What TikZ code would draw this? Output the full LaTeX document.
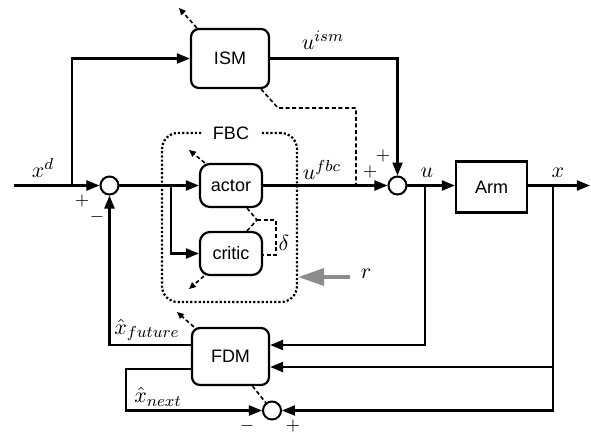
\documentclass[tikz,border=0pt]{standalone}
\usepackage{fontspec}
\setsansfont{Liberation Sans}
\usetikzlibrary{arrows.meta,calc}
\begin{document}
\begin{tikzpicture}[x=0.5pt,y=-0.5pt,
  blk/.style={draw,line width=1.1pt,rounded corners=4pt,font=\sffamily\fontsize{9}{10}\selectfont,inner sep=0pt,fill=white},
  sq/.style={draw,line width=1.1pt,font=\sffamily\fontsize{9}{10}\selectfont,inner sep=0pt},
  sumnode/.style={circle,draw,line width=1pt,minimum size=9pt,inner sep=0pt,fill=white},
  arr/.style={line width=1.1pt,-{Triangle[length=6.5pt,width=5pt]}},
  dsh/.style={line width=0.8pt,dash pattern=on 2pt off 1.3pt},
  darr/.style={line width=0.8pt,dash pattern=on 2pt off 1.3pt,-{Triangle[length=3.5pt,width=3pt]}},
  lbl/.style={font=\fontsize{11}{13}\selectfont,inner sep=0pt},
  sgn/.style={font=\fontsize{9}{10}\selectfont,inner sep=0pt},
  grayarr/.style={draw=black!45,line width=1.8pt,-{Triangle[length=13pt,width=8.5pt]}}
]
\useasboundingbox (0,0) rectangle (591,435);

% FBC container
\node[draw,densely dotted,line width=1.1pt,rounded corners=8pt,minimum width=67.5pt,minimum height=84.5pt,inner sep=0pt] (fbcbox) at (229.5,217.5) {};
\node[fill=white,font=\sffamily\fontsize{9}{10}\selectfont,inner xsep=5.5pt,inner ysep=1pt] (fbc) at (231,133) {FBC};

% blocks
\node[blk,minimum width=39pt,minimum height=29.5pt] (ISM) at (230,58.5) {ISM};
\node[blk,rounded corners=5pt,minimum width=31pt,minimum height=21.5pt] (actor) at (231,185.5) {actor};
\node[blk,rounded corners=5pt,minimum width=31pt,minimum height=21.5pt] (critic) at (231,253.5) {critic};
\node[sq,minimum width=35.5pt,minimum height=25.5pt] (arm) at (491.5,187) {Arm};
\node[blk,minimum width=38.5pt,minimum height=28.5pt] (fdm) at (230.5,356.5) {FDM};

% summing junctions
\node[sumnode] (c1) at (109.5,185.5) {};
\node[sumnode] (c2) at (397.5,185.5) {};
\node[sumnode] (c3) at (272,410.5) {};

% coordinates
\coordinate (in) at (14,185.5);
\coordinate (b1) at (72,185.5);
\coordinate (b2) at (171,185.5);
\coordinate (bu) at (425,185.5);
\coordinate (bx) at (553,185.5);
\coordinate (out) at (590,185.5);
\coordinate (j) at (356,185.5);
\coordinate (fork) at (257,220);
\coordinate (rs) at (350,277);

% main signal path
\draw[arr] (in) -- (c1);
\draw[arr] (b1) |- (ISM);
\draw[arr] (c1) -- (actor);
\draw[arr] (b2) |- (critic);
\draw[arr] (actor) -- (c2);
\draw[arr] (ISM) -| (c2);
\draw[arr] (c2) -- (c2 -| arm.west);
\draw[arr] (arm.east |- out) -- (out);

% feedback to FDM
\draw[arr] (bu) |- ($(fdm.east)+(0,-11.5)$);
\draw[arr] (bx) |- ($(fdm.east)+(0,10.5)$);
\draw[arr] (bx) |- (c3);
\draw[arr] ($(fdm.west)+(0,-11.5)$) -| (c1);
\draw[arr] ($(fdm.west)+(0,12.5)$) -- ++(-65,0) |- (c3);

% dashed training signals
\draw[dsh] ($(ISM.south east)+(-9,0)$) -- (278,108) -- (356,108) -- (j);
\draw[dsh] ($(actor.south)+(16,0)$) -- (fork) -- ($(critic.north)+(16,0)$);
\draw[dsh] (fork) -- (276,220) -- (276,255) -- ($(critic.east)+(0,1.5)$);
\draw[dsh] ($(fdm.south)+(22,0)$) -- (c3);

% adaptation arrows
\draw[darr] ($(ISM.north west)+(7,0)$) -- ++(-18,-20);
\draw[darr] ($(actor.north west)+(6,0)$) -- ++(-16,-13);
\draw[darr] ($(critic.south west)+(5,0)$) -- ++(-15,13);
\draw[darr] ($(fdm.north west)+(3,0)$) -- ++(-17,-15);

% reward
\draw[grayarr] (rs) -- (rs -| fbcbox.east);
\node[lbl] (r) at (366,274) {$r$};

% labels
\node[lbl] (lxd) at (43,168) {$x^{d}$};
\node[lbl] (lism) at (323,40) {$u^{ism}$};
\node[lbl] (lfbc) at (322,170) {$u^{fbc}$};
\node[lbl] (lu) at (427,173) {$u$};
\node[lbl] (lx) at (558,173) {$x$};
\node[lbl] (ldelta) at (284,243) {$\delta$};
\node[lbl] (lfut) at (147,330) {$\hat{x}_{future}$};
\node[lbl] (lnext) at (158,397) {$\hat{x}_{next}$};

% signs
\node[sgn] (p1) at (82,201) {$+$};
\node[sgn] (m1) at (97,217) {$-$};
\node[sgn] (p2) at (370,172) {$+$};
\node[sgn] (p3) at (383,156) {$+$};
\node[sgn] (m3) at (247,426) {$-$};
\node[sgn] (p4) at (293,426) {$+$};
\end{tikzpicture}
\end{document}
